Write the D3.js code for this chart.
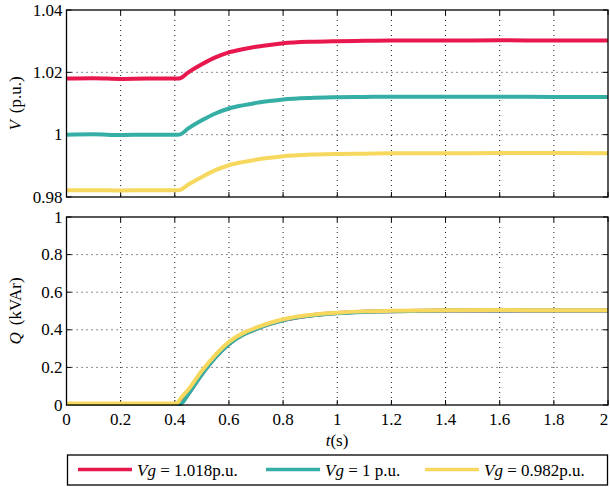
<!DOCTYPE html>
<html lang="en">
<head>
<meta charset="UTF-8">
<title>V and Q step response</title>
<style>
  body { margin: 0; background: #fff; }
  #chart { width: 610px; height: 487px; }
</style>
</head>
<body>
<div id="chart"></div>
<script src="https://cdn.jsdelivr.net/npm/d3@7"></script>
<script>
// time samples (s)
const time = [0, 0.1, 0.2, 0.3, 0.4, 0.41, 0.42, 0.45, 0.5, 0.55, 0.6, 0.65, 0.7, 0.75, 0.8, 0.9, 1.0, 1.1, 1.2, 1.4, 1.6, 1.8, 2.0]

// voltage (p.u.)
const vHigh = [1.0180, 1.0181, 1.0179, 1.0180, 1.0180, 1.0180, 1.0181, 1.0200, 1.0226, 1.0248, 1.0264, 1.0274, 1.0282, 1.0288, 1.0293, 1.0298, 1.0300, 1.0301, 1.0302, 1.0302, 1.0303, 1.0302, 1.0302]
const vNom  = [1.0000, 1.0001, 0.9999, 1.0000, 1.0000, 1.0000, 1.0001, 1.0020, 1.0046, 1.0068, 1.0084, 1.0094, 1.0102, 1.0108, 1.0113, 1.0118, 1.0120, 1.0121, 1.0122, 1.0122, 1.0122, 1.0121, 1.0121]
const vLow  = [0.9822, 0.9822, 0.9821, 0.9822, 0.9822, 0.9822, 0.9823, 0.9840, 0.9864, 0.9886, 0.9902, 0.9912, 0.9920, 0.9926, 0.9931, 0.9936, 0.9938, 0.9939, 0.9940, 0.9940, 0.9941, 0.9941, 0.9940]

// reactive power (kVAr)
const qHigh = [0.005, 0.005, 0.005, 0.005, 0.005, 0.005, 0.008, 0.060, 0.165, 0.255, 0.325, 0.373, 0.405, 0.431, 0.452, 0.476, 0.489, 0.496, 0.499, 0.502, 0.503, 0.502, 0.502]
const qNom  = [0.005, 0.005, 0.005, 0.005, 0.005, 0.005, 0.005, 0.058, 0.163, 0.253, 0.324, 0.372, 0.404, 0.430, 0.451, 0.475, 0.488, 0.495, 0.499, 0.502, 0.503, 0.502, 0.502]
const qLow  = [0.008, 0.008, 0.008, 0.008, 0.008, 0.012, 0.032, 0.082, 0.182, 0.267, 0.336, 0.381, 0.411, 0.436, 0.456, 0.479, 0.491, 0.498, 0.501, 0.504, 0.505, 0.504, 0.504]

const xTicks = [0, 0.2, 0.4, 0.6, 0.8, 1, 1.2, 1.4, 1.6, 1.8, 2]
const vTicks = [0.98, 1, 1.02, 1.04]
const qTicks = [0, 0.2, 0.4, 0.6, 0.8, 1]

const seriesNames = ['Vg = 1.018p.u.', 'Vg = 1 p.u.', 'Vg = 0.982p.u.']
const colors = ['#e8174d', '#35afa5', '#f7d85f']

const W = 610, H = 487
const left = 66.5, right = 608
const FONT = 'serif'

const svg = d3.select('#chart').append('svg')
  .attr('width', W).attr('height', H)
  .attr('font-family', FONT)

const x = d3.scaleLinear().domain([0, 2]).range([left, right])
const yV = d3.scaleLinear().domain([0.98, 1.04]).range([197, 10])
const yQ = d3.scaleLinear().domain([0, 1]).range([405, 217])

function label(sel) {
  return sel.attr('font-family', FONT).attr('font-size', 17).attr('fill', '#000')
}

function panel(y, ticks, series, showX, name) {
  const [y0, y1] = y.range()
  const g = svg.append('g')

  // dotted grid
  g.selectAll('.gx').data(xTicks.slice(1, -1)).join('line')
    .attr('x1', d => x(d)).attr('x2', d => x(d))
    .attr('y1', y1).attr('y2', y0)
    .attr('stroke', '#000').attr('stroke-width', 0.9)
    .attr('stroke-dasharray', '1,4')
  g.selectAll('.gy').data(ticks.slice(1, -1)).join('line')
    .attr('x1', left).attr('x2', right)
    .attr('y1', d => y(d)).attr('y2', d => y(d))
    .attr('stroke', '#000').attr('stroke-width', 0.9)
    .attr('stroke-dasharray', '1,4')

  // inner ticks on all sides
  const tl = 5
  g.selectAll('.tb').data(xTicks).join('path')
    .attr('d', d => `M${x(d)},${y0}v${-tl}M${x(d)},${y1}v${tl}`)
    .attr('stroke', '#000').attr('stroke-width', 1)
  g.selectAll('.ty').data(ticks).join('path')
    .attr('d', d => `M${left},${y(d)}h${tl}M${right},${y(d)}h${-tl}`)
    .attr('stroke', '#000').attr('stroke-width', 1)

  const line = d3.line()
    .x((d, i) => x(time[i]))
    .y(d => y(d))
    .curve(d3.curveMonotoneX)
  series.forEach((s, i) => {
    g.append('path').attr('d', line(s))
      .attr('fill', 'none').attr('stroke', colors[i])
      .attr('stroke-width', 4).attr('stroke-linejoin', 'round')
  })

  g.append('rect').attr('x', left).attr('y', y1)
    .attr('width', right - left).attr('height', y0 - y1)
    .attr('fill', 'none').attr('stroke', '#000').attr('stroke-width', 1.3)

  g.selectAll('.yl').data(ticks).join('text')
    .call(label)
    .attr('x', left - 4).attr('y', d => y(d) + 5.5)
    .attr('text-anchor', 'end')
    .text(d => d3.format('~g')(d))

  if (showX) {
    g.selectAll('.xl').data(xTicks).join('text')
      .call(label)
      .attr('x', d => Math.min(x(d), 604)).attr('y', y0 + 20)
      .attr('text-anchor', 'middle')
      .text(d => d3.format('~g')(d))
  }

  const lab = g.append('text')
    .call(label)
    .attr('transform', `translate(21,${(y0 + y1) / 2}) rotate(-90)`)
    .attr('text-anchor', 'middle')
  lab.append('tspan').attr('font-style', 'italic').text(name[0])
  lab.append('tspan').attr('dx', 7).text(name[1])
}

panel(yV, vTicks, [vHigh, vNom, vLow], false, ['V', '(p.u.)'])
panel(yQ, qTicks, [qHigh, qNom, qLow], true, ['Q', '(kVAr)'])

const xl = svg.append('text').call(label)
  .attr('x', 337).attr('y', 446)
  .attr('text-anchor', 'middle')
xl.append('tspan').attr('font-style', 'italic').text('t')
xl.append('tspan').text('(s)')

// legend
const lg = svg.append('g')
lg.append('rect').attr('x', 67.5).attr('y', 455).attr('width', 540).attr('height', 30)
  .attr('fill', '#fff').attr('stroke', '#000').attr('stroke-width', 1.3)
const lx = [78, 266, 425]
seriesNames.forEach((n, i) => {
  lg.append('line').attr('x1', lx[i]).attr('x2', lx[i] + 54)
    .attr('y1', 469.5).attr('y2', 469.5)
    .attr('stroke', colors[i]).attr('stroke-width', 3.6)
  const t = lg.append('text').call(label)
    .attr('x', lx[i] + 59).attr('y', 475.5)
  t.append('tspan').attr('font-style', 'italic').text('Vg')
  t.append('tspan').text(n.slice(2))
})
</script>
</body>
</html>
